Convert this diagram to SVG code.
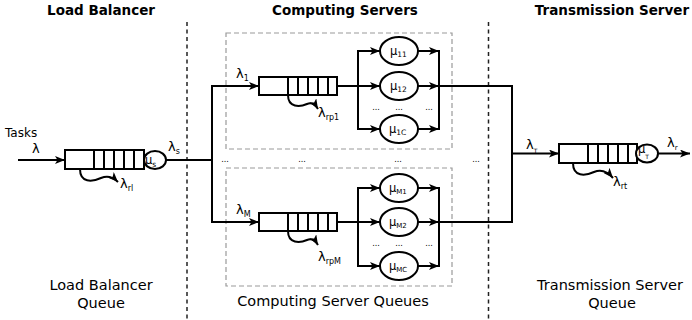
<svg xmlns="http://www.w3.org/2000/svg" width="692" height="320" viewBox="0 0 692 320">
  <style>
    .ln { stroke: #000; stroke-width: 2; fill: none; }
    .box { stroke: #000; stroke-width: 2; fill: #fff; }
    .cell { stroke: #000; stroke-width: 2; }
    .grp { stroke: #9a9a9a; stroke-width: 1.2; stroke-dasharray: 5 3; fill: none; }
    .div { stroke: #222; stroke-width: 1.5; stroke-dasharray: 4 3.5; }
    .t { font-family: "DejaVu Sans", sans-serif; fill: #000; }
    .title { font-family: "DejaVu Sans", sans-serif; font-weight: bold; font-size: 13.5px; text-anchor: middle; }
    .cap { font-family: "DejaVu Sans", sans-serif; font-size: 14.5px; text-anchor: middle; }
    .lam { font-family: "DejaVu Sans", sans-serif; font-size: 13px; }
    .mu { font-family: "DejaVu Sans", sans-serif; font-size: 11.5px; }
    .dots { font-family: "DejaVu Sans", sans-serif; font-size: 8px; text-anchor: middle; }
  </style>
  <defs>
    <marker id="ah" markerUnits="userSpaceOnUse" markerWidth="11" markerHeight="8" refX="10" refY="4" orient="auto">
      <path d="M0,0 L10,4 L0,8 L2.5,4 z" fill="#000"/>
    </marker>
  </defs>

  <rect width="692" height="320" fill="#fff"/>

  <!-- section titles -->
  <text class="title" x="101" y="15">Load Balancer</text>
  <text class="title" x="345" y="15">Computing Servers</text>
  <text class="title" x="612" y="15">Transmission Server</text>

  <!-- section dividers -->
  <line class="div" x1="187" y1="22" x2="187" y2="320"/>
  <line class="div" x1="488.5" y1="22" x2="488.5" y2="320"/>

  <!-- server group frames -->
  <rect class="grp" x="226" y="33" width="226" height="116"/>
  <rect class="grp" x="226" y="168" width="226" height="118"/>

  <!-- connectors -->
  <g id="connectors">
    <line class="ln" x1="18" y1="160" x2="65" y2="160" marker-end="url(#ah)"/>
    <line class="ln" x1="166" y1="160" x2="212" y2="160"/>
    <line class="ln" x1="212" y1="85" x2="212" y2="223"/>
    <line class="ln" x1="211" y1="86" x2="259" y2="86" marker-end="url(#ah)"/>
    <line class="ln" x1="211" y1="222" x2="259" y2="222" marker-end="url(#ah)"/>

    <!-- server 1 fan-out / fan-in -->
    <line class="ln" x1="337" y1="86" x2="358" y2="86"/>
    <line class="ln" x1="358" y1="50" x2="358" y2="130"/>
    <line class="ln" x1="357" y1="51" x2="380" y2="51" marker-end="url(#ah)"/>
    <line class="ln" x1="358" y1="86" x2="380" y2="86" marker-end="url(#ah)"/>
    <line class="ln" x1="357" y1="129" x2="380" y2="129" marker-end="url(#ah)"/>
    <line class="ln" x1="418" y1="51" x2="439" y2="51" marker-end="url(#ah)"/>
    <line class="ln" x1="418" y1="86" x2="439" y2="86" marker-end="url(#ah)"/>
    <line class="ln" x1="418" y1="129" x2="439" y2="129" marker-end="url(#ah)"/>
    <line class="ln" x1="439" y1="50" x2="439" y2="130"/>
    <line class="ln" x1="439" y1="86" x2="512" y2="86"/>

    <!-- server M fan-out / fan-in -->
    <line class="ln" x1="337" y1="222" x2="358" y2="222"/>
    <line class="ln" x1="358" y1="187" x2="358" y2="267"/>
    <line class="ln" x1="357" y1="188" x2="380" y2="188" marker-end="url(#ah)"/>
    <line class="ln" x1="358" y1="222" x2="380" y2="222" marker-end="url(#ah)"/>
    <line class="ln" x1="357" y1="266" x2="380" y2="266" marker-end="url(#ah)"/>
    <line class="ln" x1="418" y1="188" x2="439" y2="188" marker-end="url(#ah)"/>
    <line class="ln" x1="418" y1="222" x2="439" y2="222" marker-end="url(#ah)"/>
    <line class="ln" x1="418" y1="266" x2="439" y2="266" marker-end="url(#ah)"/>
    <line class="ln" x1="439" y1="187" x2="439" y2="267"/>
    <line class="ln" x1="439" y1="222" x2="512" y2="222"/>

    <!-- merge into transmission queue -->
    <line class="ln" x1="512" y1="85" x2="512" y2="223"/>
    <line class="ln" x1="511" y1="153.5" x2="559" y2="153.5" marker-end="url(#ah)"/>
    <line class="ln" x1="658" y1="153.5" x2="690" y2="153.5" marker-end="url(#ah)"/>

    <!-- rejection arrows -->
    <path class="ln" d="M80,169 C80,183 92,182 101,178 C108,175 113,177 118,182" stroke-width="1.8" marker-end="url(#ah)"/>
    <path class="ln" d="M288,95 C288,108 300,107 307,104 C312,102 315,104 318,109" stroke-width="1.8" marker-end="url(#ah)"/>
    <path class="ln" d="M288,231 C288,244 300,243 307,240 C312,238 315,240 318,245" stroke-width="1.8" marker-end="url(#ah)"/>
    <path class="ln" d="M573,163 C573,177 585,176 594,172 C601,169 607,171 613,178" stroke-width="1.8" marker-end="url(#ah)"/>
  </g>

  <!-- load balancer queue -->
  <g id="lb-queue">
    <rect class="box" x="65" y="150" width="79" height="19"/>
    <path class="cell" d="M94,150V169M104,150V169M114,150V169M124,150V169M134,150V169"/>
    <ellipse class="box" cx="155" cy="160" rx="11" ry="9"/>
    <text class="mu" x="145" y="164" font-size="10.5">μ<tspan font-size="7.5" dy="2.5">s</tspan></text>
  </g>

  <!-- computing server 1 -->
  <g id="cs1-queue">
    <rect class="box" x="259" y="77" width="78" height="18"/>
    <path class="cell" d="M288,77V95M298,77V95M308,77V95M318,77V95M328,77V95"/>
  </g>
  <g id="mu11"><ellipse class="box" cx="399" cy="51" rx="19" ry="14"/><text class="mu" x="390" y="55">μ<tspan font-size="7.5" dy="2">11</tspan></text></g>
  <g id="mu12"><ellipse class="box" cx="399" cy="86" rx="19" ry="14"/><text class="mu" x="390" y="90">μ<tspan font-size="7.5" dy="2">12</tspan></text></g>
  <g id="mu1c"><ellipse class="box" cx="399" cy="129" rx="19" ry="14"/><text class="mu" x="389" y="133">μ<tspan font-size="7.5" dy="2">1C</tspan></text></g>

  <!-- computing server M -->
  <g id="csM-queue">
    <rect class="box" x="259" y="213" width="78" height="18"/>
    <path class="cell" d="M288,213V231M298,213V231M308,213V231M318,213V231M328,213V231"/>
  </g>
  <g id="muM1"><ellipse class="box" cx="399" cy="188" rx="19" ry="14"/><text class="mu" x="389" y="192">μ<tspan font-size="7" dy="2">M1</tspan></text></g>
  <g id="muM2"><ellipse class="box" cx="399" cy="222" rx="19" ry="14"/><text class="mu" x="389" y="226">μ<tspan font-size="7" dy="2">M2</tspan></text></g>
  <g id="muMC"><ellipse class="box" cx="399" cy="266" rx="19" ry="14"/><text class="mu" x="389" y="270">μ<tspan font-size="7" dy="2">MC</tspan></text></g>

  <!-- transmission queue -->
  <g id="tx-queue">
    <rect class="box" x="559" y="144" width="78" height="19"/>
    <path class="cell" d="M588,144V163M598,144V163M608,144V163M618,144V163M628,144V163"/>
    <ellipse class="box" cx="647" cy="153.5" rx="11" ry="9"/>
    <text class="mu" x="638" y="153" font-size="9.5">μ<tspan font-size="6" dy="6">T</tspan></text>
  </g>

  <!-- ellipsis marks -->
  <text class="dots" x="376" y="110">...</text>
  <text class="dots" x="399" y="110">...</text>
  <text class="dots" x="429" y="110">...</text>
  <text class="dots" x="376" y="246">...</text>
  <text class="dots" x="399" y="246">...</text>
  <text class="dots" x="429" y="246">...</text>
  <text class="dots" x="225" y="162">...</text>
  <text class="dots" x="302" y="162">...</text>
  <text class="dots" x="398" y="162">...</text>
  <text class="dots" x="476" y="162">...</text>

  <!-- rate labels -->
  <text class="t" x="5" y="137" font-size="12">Tasks</text>
  <text class="lam" x="32" y="153">λ</text>
  <text class="lam" x="168" y="151">λ<tspan font-size="8" dy="3">s</tspan></text>
  <text class="lam" x="120" y="188">λ<tspan font-size="8" dy="3">rl</tspan></text>
  <text class="lam" x="236" y="78">λ<tspan font-size="8" dy="3">1</tspan></text>
  <text class="lam" x="318" y="117">λ<tspan font-size="8" dy="3">rp1</tspan></text>
  <text class="lam" x="236" y="214">λ<tspan font-size="8" dy="3">M</tspan></text>
  <text class="lam" x="318" y="261">λ<tspan font-size="8" dy="3">rpM</tspan></text>
  <text class="lam" x="526" y="149">λ<tspan font-size="6" dy="4">T</tspan></text>
  <text class="lam" x="667" y="147">λ<tspan font-size="7" dy="3">r</tspan></text>
  <text class="lam" x="613" y="186">λ<tspan font-size="8" dy="3">rt</tspan></text>

  <!-- bottom captions -->
  <text class="cap" x="101" y="290">Load Balancer</text>
  <text class="cap" x="101" y="307.5">Queue</text>
  <text class="cap" x="333" y="306">Computing Server Queues</text>
  <text class="cap" x="610" y="290">Transmission Server</text>
  <text class="cap" x="612" y="307.5">Queue</text>
</svg>
